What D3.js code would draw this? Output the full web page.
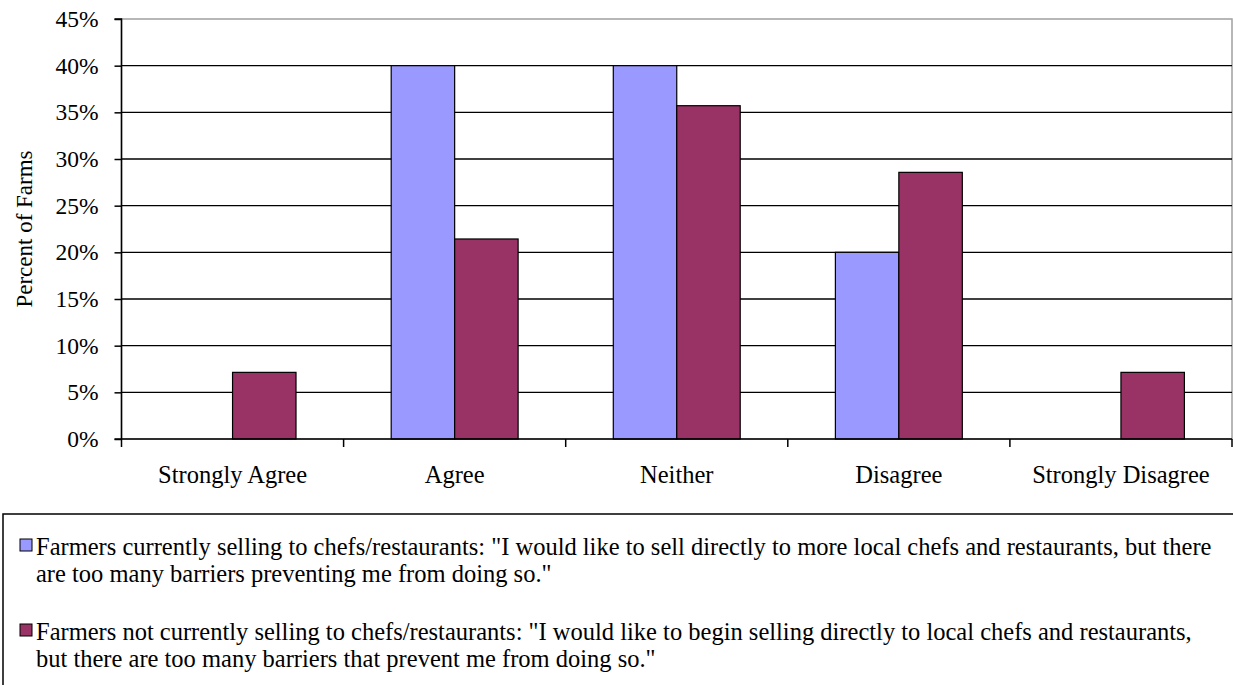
<!DOCTYPE html>
<html>
<head>
<meta charset="utf-8">
<script src="https://cdn.jsdelivr.net/npm/d3@7"></script>
<style>
  html, body { margin: 0; padding: 0; background: #ffffff; }
  svg { display: block; }
  text { font-family: "Liberation Serif", "Times New Roman", serif; fill: #000; }
</style>
</head>
<body>
<svg id="chart" width="1233" height="685"></svg>
<script>
// Survey responses by category
const categories = ["Strongly Agree", "Agree", "Neither", "Disagree", "Strongly Disagree"];
const seriesNames = ["selling", "notSelling"];
// Share of farms (%) giving each response
const sellingValues = [0, 40, 40, 20, 0];
const notSellingValues = [7.14, 21.43, 35.71, 28.57, 7.14];
const yTicks = [0, 5, 10, 15, 20, 25, 30, 35, 40, 45];
const seriesColors = ["#9999FF", "#993366"];
const legendLines = [
  ["Farmers currently selling to chefs/restaurants: \"I would like to sell directly to more local chefs and restaurants, but there",
   "are too many barriers preventing me from doing so.\""],
  ["Farmers not currently selling to chefs/restaurants: \"I would like to begin selling directly to local chefs and restaurants,",
   "but there are too many barriers that prevent me from doing so.\""]
];

const svg = d3.select("#chart");
const plot = { left: 121.5, right: 1232, top: 19, bottom: 439 };
const tickFont = 23.5;
const labelFont = 24.5;

const y = d3.scaleLinear().domain([0, 45]).range([plot.bottom, plot.top]);
const x0 = d3.scaleBand().domain(categories).range([plot.left, plot.right]).padding(0);
const x1 = d3.scaleBand().domain(seriesNames).range([0, x0.bandwidth()]).paddingInner(0).paddingOuter(0.75);

const rows = categories.map((c, i) => ({ category: c, values: [sellingValues[i], notSellingValues[i]] }));

// Plot-area border
svg.append("rect")
  .attr("x", plot.left).attr("y", plot.top)
  .attr("width", plot.right - plot.left).attr("height", plot.bottom - plot.top)
  .attr("fill", "none").attr("stroke", "#a0a0a0").attr("stroke-width", 1.5);

// Horizontal gridlines
svg.append("g")
  .selectAll("line")
  .data(yTicks.filter(t => t > 0 && t < 45))
  .join("line")
  .attr("x1", plot.left).attr("x2", plot.right)
  .attr("y1", d => y(d)).attr("y2", d => y(d))
  .attr("stroke", "#000").attr("stroke-width", 1.3);

// Bars
const groups = svg.append("g")
  .selectAll("g")
  .data(rows)
  .join("g")
  .attr("transform", d => `translate(${x0(d.category)},0)`);

groups.selectAll("rect")
  .data(d => d.values.map((v, i) => ({ key: seriesNames[i], value: v, idx: i })).filter(e => e.value > 0))
  .join("rect")
  .attr("x", d => x1(d.key))
  .attr("y", d => y(d.value))
  .attr("width", x1.bandwidth())
  .attr("height", d => y(0) - y(d.value))
  .attr("fill", d => seriesColors[d.idx])
  .attr("stroke", "#000").attr("stroke-width", 1.2);

// Y axis
const yAxis = d3.axisLeft(y).tickValues(yTicks).tickFormat(d => d + "%").tickSize(7).tickPadding(16);
const gy = svg.append("g").attr("transform", `translate(${plot.left},0)`).call(yAxis);
gy.select(".domain").attr("stroke", "#000").attr("stroke-width", 1.5).attr("d", `M-7,${plot.top}H0V${plot.bottom + 8}`);
gy.selectAll(".tick line").attr("stroke", "#000").attr("stroke-width", 1.5);
gy.selectAll(".tick text").attr("font-size", tickFont).attr("font-family", "Liberation Serif").attr("fill", "#000");

// X axis with category ticks at band boundaries
const xAxis = d3.axisBottom(x0).tickSize(0).tickPadding(27);
const gx = svg.append("g").attr("transform", `translate(0,${plot.bottom})`).call(xAxis);
gx.select(".domain").attr("stroke", "#000").attr("stroke-width", 1.5).attr("d", `M${plot.left - 7},0H${plot.right}`);
gx.selectAll(".tick text").attr("font-size", labelFont).attr("font-family", "Liberation Serif").attr("fill", "#000");
gx.selectAll(".boundary")
  .data(categories)
  .join("line")
  .attr("class", "boundary")
  .attr("x1", d => x0(d) + x0.bandwidth())
  .attr("x2", d => x0(d) + x0.bandwidth())
  .attr("y1", 0).attr("y2", 8)
  .attr("stroke", "#000").attr("stroke-width", 1.5);

// Y axis title
svg.append("text")
  .attr("transform", `translate(32,${(plot.top + plot.bottom) / 2}) rotate(-90)`)
  .attr("text-anchor", "middle")
  .attr("font-size", 23)
  .text("Percent of Farms");

// Legend
const legend = svg.append("g");
legend.append("rect")
  .attr("x", 3).attr("y", 514).attr("width", 1260).attr("height", 200)
  .attr("fill", "#fff").attr("stroke", "#000").attr("stroke-width", 1.5);

const legendBaseline = [555, 640];
legendLines.forEach((lines, i) => {
  legend.append("rect")
    .attr("x", 20).attr("y", legendBaseline[i] - 16).attr("width", 12).attr("height", 12)
    .attr("fill", seriesColors[i]).attr("stroke", "#000").attr("stroke-width", 1);
  const t = legend.append("text").attr("font-size", labelFont);
  lines.forEach((line, j) => {
    t.append("tspan").attr("x", 36).attr("y", legendBaseline[i] + j * 27).text(line);
  });
});
</script>
</body>
</html>
